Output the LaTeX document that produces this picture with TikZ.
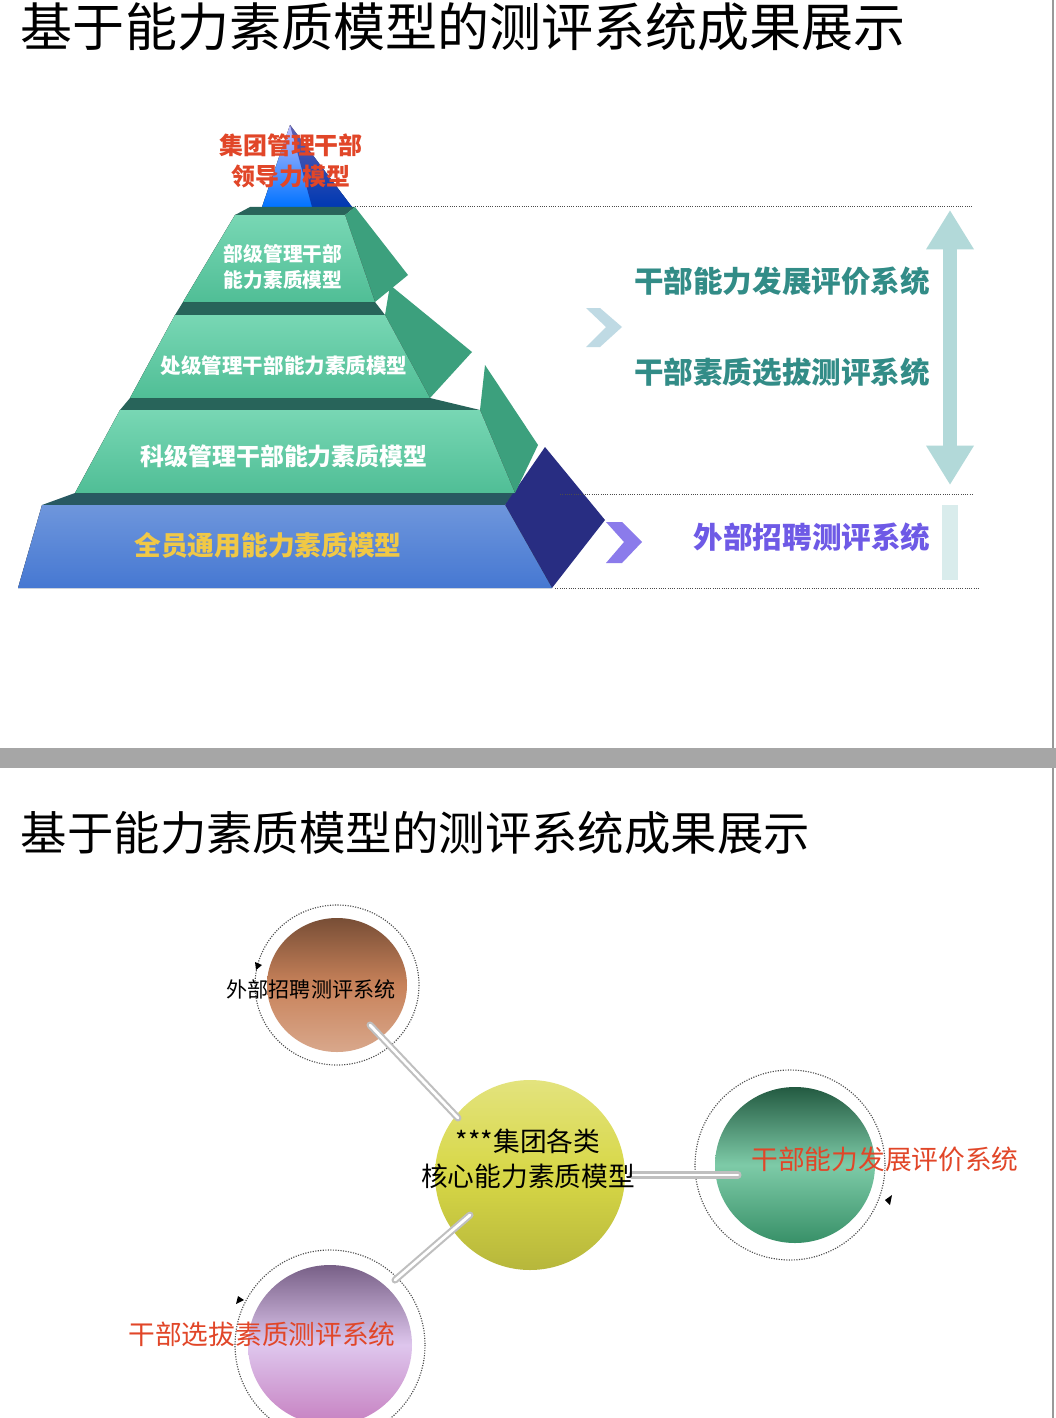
\documentclass[tikz,border=0pt]{standalone}
\usepackage{fontspec}
\setmainfont{Noto Sans CJK SC}
\usetikzlibrary{positioning,arrows.meta,calc}
\definecolor{teal1}{RGB}{120,215,180}
\definecolor{teal2}{RGB}{80,190,150}
\definecolor{tealside}{RGB}{60,160,125}
\definecolor{tealtop}{RGB}{40,100,90}
\definecolor{navy1}{RGB}{40,45,130}
\definecolor{blue1}{RGB}{110,150,220}
\definecolor{blue2}{RGB}{70,120,210}
\definecolor{systeal}{RGB}{50,140,135}
\definecolor{syspurple}{RGB}{110,90,230}
\definecolor{redtxt}{RGB}{225,70,40}
\definecolor{goldtxt}{RGB}{240,200,70}
\definecolor{ballbrown}{RGB}{200,130,90}
\definecolor{ballyellow}{RGB}{215,215,70}
\definecolor{ballgreen}{RGB}{70,180,130}
\definecolor{ballviolet}{RGB}{200,160,225}
\tikzset{
	front/.style={top color=teal1, bottom color=teal2, draw=none},
	side/.style={fill=tealside},
	topband/.style={fill=tealtop},
	layertxt/.style={text=white, font=\bfseries\fontsize{14.6}{18}\selectfont, align=center},
	systxt/.style={font=\bfseries\fontsize{21}{24}\selectfont},
	guide/.style={densely dotted, black!70, line width=0.6pt},
	rod/.style={line width=5pt, draw=black!25, line cap=round},
	rodin/.style={line width=2pt, draw=white, line cap=round},
	ring/.style={densely dotted, line width=0.8pt, black!70},
	balltxt/.style={font=\fontsize{19}{23}\selectfont, align=center}
}
\begin{document}
\begin{tikzpicture}[x=0.025cm, y=-0.025cm, >=Stealth]
	\useasboundingbox (0,0) rectangle (1056,1418);
	\fill[white] (0,0) rectangle (1056,1418);
	\fill[black!35] (0,748) rectangle (1056,768);
	\draw[black!40, line width=1pt] (1053,0) -- (1053,748);
	\draw[black!40, line width=1pt] (1053,768) -- (1053,1418);
	
	% top panel
	\node[anchor=west, font=\fontsize{37}{42}\selectfont] (title1) at (16,27) {基于能力素质模型的测评系统成果展示};
	
	% spire
	\fill[top color=blue!25, bottom color=blue!55!cyan] (290,125) -- (352,207) -- (262,207) -- cycle;
	\fill[blue!40!black, opacity=0.5] (290,125) -- (352,207) -- (312,207) -- cycle;
	\node[text=redtxt, font=\bfseries\fontsize{17}{22}\selectfont, align=center] (lead) at (291,161) {集团管理干部\\领导力模型};
	
	% layer 4
	\fill[fill=tealtop!80!navy1] (75,493) -- (515,493) -- (505,505) -- (42,505) -- cycle;
	\fill[navy1] (505,505) -- (545,447) -- (605,520) -- (552,588) -- cycle;
	\fill[top color=blue1, bottom color=blue2] (42,505) -- (505,505) -- (552,588) -- (18,588) -- cycle;
	\node[text=goldtxt, font=\bfseries\fontsize{19}{22}\selectfont] (l4) at (268,545) {全员通用能力素质模型};
	% layer 3
	\fill[topband] (130,398) -- (430,398) -- (480,410) -- (120,410) -- cycle;
	\fill[side] (480,410) -- (485,365) -- (538,445) -- (515,493) -- cycle;
	\fill[front] (120,410) -- (480,410) -- (515,493) -- (75,493) -- cycle;
	\node[layertxt, font=\bfseries\fontsize{17}{20}\selectfont] (l3) at (284,456) {科级管理干部能力素质模型};
	% layer 2
	\fill[topband] (183,302) -- (375,302) -- (385,315) -- (175,315) -- cycle;
	\fill[side] (385,315) -- (390,285) -- (472,352) -- (430,398) -- cycle;
	\fill[front] (175,315) -- (385,315) -- (430,398) -- (130,398) -- cycle;
	\node[layertxt] (l2) at (284,366) {处级管理干部能力素质模型};
	% layer 1
	\fill[topband] (250,207) -- (355,207) -- (345,215) -- (235,215) -- cycle;
	\fill[side] (345,215) -- (355,207) -- (408,275) -- (375,302) -- cycle;
	\fill[front] (235,215) -- (345,215) -- (375,302) -- (183,302) -- cycle;
	\node[layertxt, align=left, font=\bfseries\fontsize{14}{18}\selectfont] (l1) at (283,267) {部级管理干部\\能力素质模型};
	
	% guides
	\draw[guide] (355,206) -- (972,206);
	\draw[guide] (560,494) -- (972,494);
	\draw[guide] (555,588) -- (980,588);
	
	% systems
	\node[systxt, text=systeal] (s1) at (782,281) {干部能力发展评价系统};
	\node[systxt, text=systeal] (s2) at (782,372) {干部素质选拔测评系统};
	\node[systxt, text=syspurple] (s3) at (812,537) {外部招聘测评系统};
	\fill[blue!15!teal!25] (586,308) -- (600,308) -- (622,327) -- (600,347) -- (586,347) -- (606,327) -- cycle;
	\fill[syspurple!80] (606,522) -- (622,522) -- (642,542) -- (622,563) -- (606,563) -- (624,542) -- cycle;
	\draw[{Triangle[width=32pt,length=28pt]}-{Triangle[width=32pt,length=28pt]}, line width=10pt, teal!30] (950,210) -- (950,485);
	\fill[teal!15] (942,505) rectangle (958,580);
	
	% bottom panel
	\node[anchor=west, font=\fontsize{33}{38}\selectfont] (title2) at (16,833) {基于能力素质模型的测评系统成果展示};
	
	% rings
	\draw[ring] (337,985) circle[x radius=82, y radius=80];
	\draw[ring] (790,1165) circle[x radius=95, y radius=95];
	\draw[ring] (330,1345) circle[x radius=95, y radius=95];
	\fill (255,962) -- (262,965) -- (256,970) -- cycle;
	\fill (885,1200) -- (892,1195) -- (890,1205) -- cycle;
	\fill (238,1296) -- (244,1300) -- (236,1304) -- cycle;
	
	% balls
	\shade[top color=ballbrown!60!black, bottom color=ballbrown!70!white, middle color=ballbrown] (337,985) ellipse[x radius=70, y radius=67];
	\shade[top color=ballyellow!70!white, bottom color=ballyellow!85!black, middle color=ballyellow] (530,1175) ellipse[x radius=95, y radius=95];
	\shade[top color=ballgreen!50!black, bottom color=ballgreen!80!black, middle color=ballgreen!70!white] (795,1165) ellipse[x radius=80, y radius=78];
	\shade[top color=ballviolet!60!black, bottom color=ballviolet!80!purple, middle color=ballviolet!60!white] (330,1345) ellipse[x radius=82, y radius=80];
	\coordinate (brown) at (370,1025);
	\coordinate (yellowA) at (458,1118);
	\coordinate (yellowB) at (632,1175);
	\coordinate (yellowC) at (470,1215);
	\coordinate (green) at (738,1175);
	\coordinate (purple) at (395,1280);
	\draw[rod] (brown) -- (yellowA);
	\draw[rodin] (brown) -- (yellowA);
	\draw[rod] (yellowB) -- (green);
	\draw[rodin] (yellowB) -- (green);
	\draw[rod] (yellowC) -- (purple);
	\draw[rodin] (yellowC) -- (purple);
	
	\node[balltxt, font=\fontsize{15}{18}\selectfont] (b1) at (311,989) {外部招聘测评系统};
	\node[balltxt, font=\fontsize{19}{25}\selectfont] (b2) at (528,1159) {***集团各类\\核心能力素质模型};
	\node[balltxt, text=redtxt] (b3) at (885,1159) {干部能力发展评价系统};
	\node[balltxt, text=redtxt] (b4) at (262,1334) {干部选拔素质测评系统};
\end{tikzpicture}
\end{document}
